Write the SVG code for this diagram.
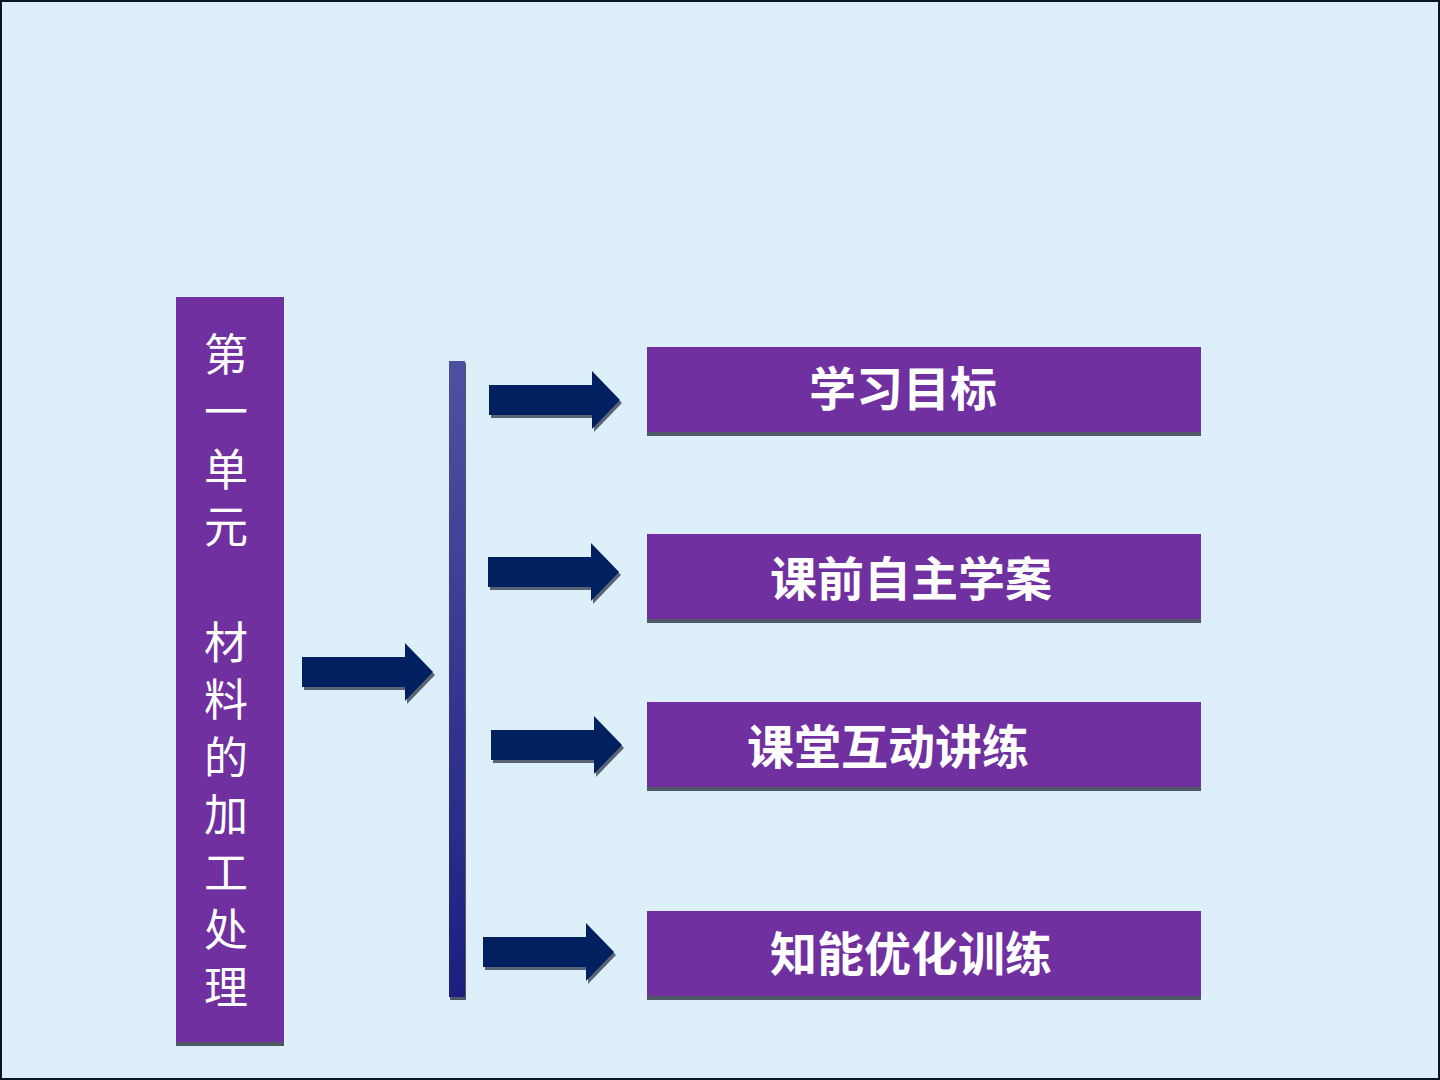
<svg xmlns="http://www.w3.org/2000/svg" width="1440" height="1080" viewBox="0 0 1440 1080">
<defs>
<linearGradient id="barGrad" x1="0" y1="0" x2="0" y2="1">
<stop offset="0" stop-color="#5050A2"/>
<stop offset="1" stop-color="#1E1E80"/>
</linearGradient>
<path id="arrowShape" d="M0,-15 L103,-15 L103,-29 L131,0 L103,29 L103,15 L0,15 Z"/>
</defs>
<style>
.bg{fill:#DDF0FA;stroke:#0B1526;stroke-width:2}
.box{fill:#7030A0}
.shadow{fill:#4F5864}
.arrow{fill:#002060}
.ashadow{fill:#5A6474}
.title{font-family:"Noto Sans CJK SC","Noto Sans CJK TC",sans-serif;font-weight:700;font-size:47px;fill:#FFFFFF;text-anchor:middle;dominant-baseline:central}
.side{font-family:"Noto Sans CJK SC","Noto Sans CJK TC",sans-serif;font-size:44px;fill:#FFFFFF;text-anchor:middle;dominant-baseline:central}
</style>
<rect class="bg" x="1" y="1" width="1438" height="1078"/>

<g id="unit">
<rect class="shadow" x="176" y="300" width="108" height="746"/>
<rect class="box" x="176" y="297" width="108" height="745"/>
<text class="side" x="226" y="352">第</text>
<text class="side" x="226" y="409">一</text>
<text class="side" x="226" y="467">单</text>
<text class="side" x="226" y="524">元</text>
<text class="side" x="226" y="640">材</text>
<text class="side" x="226" y="697">料</text>
<text class="side" x="226" y="755">的</text>
<text class="side" x="226" y="812">加</text>
<text class="side" x="226" y="870">工</text>
<text class="side" x="226" y="927">处</text>
<text class="side" x="226" y="985">理</text>
</g>

<g id="bar">
<rect class="shadow" x="450" y="363" width="16" height="637"/>
<rect x="449" y="361" width="16" height="636" fill="url(#barGrad)"/>
</g>

<g id="node1">
<rect class="shadow" x="647" y="350" width="554" height="86"/>
<rect class="box" x="647" y="347" width="554" height="85"/>
<text class="title" x="903" y="385">学习目标</text>
</g>
<g id="node2">
<rect class="shadow" x="647" y="537" width="554" height="86"/>
<rect class="box" x="647" y="534" width="554" height="85"/>
<text class="title" x="911" y="575">课前自主学案</text>
</g>
<g id="node3">
<rect class="shadow" x="647" y="705" width="554" height="86"/>
<rect class="box" x="647" y="702" width="554" height="85"/>
<text class="title" x="888" y="743">课堂互动讲练</text>
</g>
<g id="node4">
<rect class="shadow" x="647" y="914" width="554" height="86"/>
<rect class="box" x="647" y="911" width="554" height="85"/>
<text class="title" x="911" y="950">知能优化训练</text>
</g>

<g id="connectors">
<use href="#arrowShape" class="ashadow" transform="translate(304,675)"/>
<use href="#arrowShape" class="arrow" transform="translate(302,672)"/>
<use href="#arrowShape" class="ashadow" transform="translate(491,403)"/>
<use href="#arrowShape" class="arrow" transform="translate(489,400)"/>
<use href="#arrowShape" class="ashadow" transform="translate(490,575)"/>
<use href="#arrowShape" class="arrow" transform="translate(488,572)"/>
<use href="#arrowShape" class="ashadow" transform="translate(493,748)"/>
<use href="#arrowShape" class="arrow" transform="translate(491,745)"/>
<use href="#arrowShape" class="ashadow" transform="translate(485,955)"/>
<use href="#arrowShape" class="arrow" transform="translate(483,952)"/>
</g>
</svg>
